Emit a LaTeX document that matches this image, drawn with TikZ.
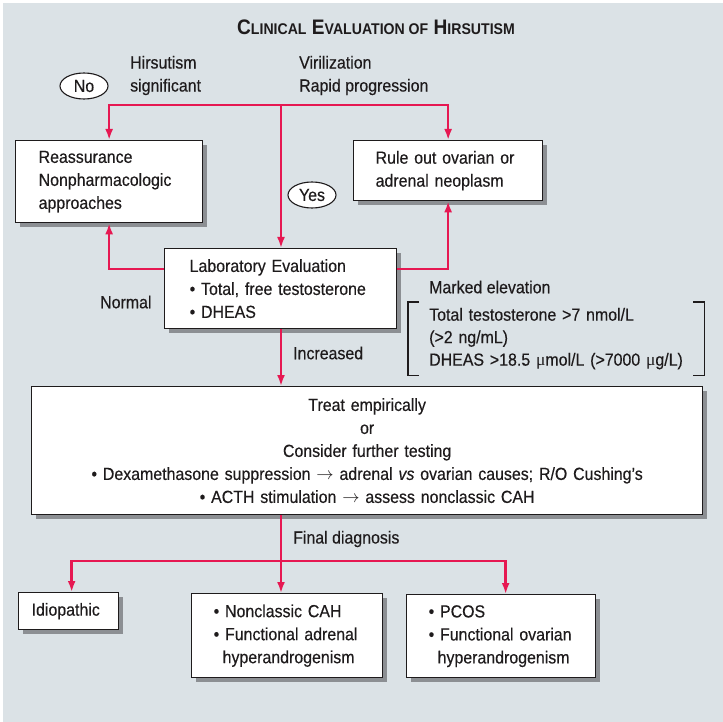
\documentclass[tikz,border=0pt]{standalone}
\usepackage{fontspec}
\setmainfont{Liberation Sans}[FakeStretch=0.91, UprightFeatures={FakeBold=0.35}, ItalicFeatures={FakeBold=0.35}]
\newfontfamily\mufont{Liberation Serif}
\usetikzlibrary{arrows.meta,shadows,calc,shapes.geometric}

\definecolor{panel}{RGB}{219,226,230}
\definecolor{flow}{RGB}{230,24,82}
\definecolor{ink}{RGB}{30,27,28}
\definecolor{shade}{RGB}{140,143,147}

% small capitals of the heading, set by hand
\newcommand\headsc[1]{{\fontsize{15.5}{18}\selectfont #1}}
\newcommand\mic{{\mufont μ}}
\newcommand\toward{$\rightarrow$}

\begin{document}
\begin{tikzpicture}[x=1pt,y=-1pt,
  every node/.style={text=ink, font=\fontsize{17.5}{23}\selectfont},
  padl/.style={execute at begin node={\leftskip=#1}},
  box/.style={draw=ink, line width=1.3pt, fill=white, inner sep=0pt,
    align=left, anchor=north west,
    drop shadow={shadow xshift=4pt, shadow yshift=-4pt, fill=shade, opacity=1}},
  arr/.style={draw=flow, line width=2.4pt, -{Latex[length=11pt,width=8pt]}},
  link/.style={draw=flow, line width=2.4pt},
  oval/.style={draw=ink, ellipse, fill=white, line width=1.1pt, inner sep=0pt,
    minimum width=48pt, minimum height=26pt},
  lbl/.style={anchor=west, inner sep=0pt, align=left},
  brk/.style={draw=ink, line width=1.2pt}
]
\useasboundingbox (0,0) rectangle (723,722);
\fill[white] (0,0) rectangle (723,722);
\fill[panel] (3,3) rectangle (723,722);

% heading
\node[inner sep=0pt] (title) at (376,27)
  {\fontsize{21}{24}\selectfont\bfseries C\headsc{LINICAL} E\headsc{VALUATION OF} H\headsc{IRSUTISM}};

% entry labels
\node[oval] (no) at (84,86) {No};
\node[lbl] (signif) at (130,75.5) {Hirsutism\\significant};
\node[lbl] (viril) at (299,75.5) {Virilization\\Rapid progression};

% boxes
\node[box, text width=187pt, minimum height=82pt, padl=23pt] (reas) at (15,140)
  {Reassurance\\Nonpharmacologic\\approaches};
\node[box, text width=189pt, minimum height=60pt, padl=22pt] (rule) at (353,140)
  {Rule out ovarian or\\adrenal neoplasm};
\node[oval] (yes) at (312,195) {Yes};
\node[box, text width=232pt, minimum height=80pt, padl=25pt] (lab) at (164,248)
  {Laboratory Evaluation\\• Total, free testosterone\\• DHEAS};
\node[box, text width=671pt, minimum height=128pt, align=center] (big) at (31,386)
  {Treat empirically\\or\\Consider further testing\\
   • Dexamethasone suppression \toward{} adrenal \textit{vs} ovarian causes; R/O Cushing’s\\
   • ACTH stimulation \toward{} assess nonclassic CAH};
\node[box, text width=100pt, minimum height=37pt, padl=13pt] (idio) at (18,592)
  {Idiopathic};
\node[box, text width=191pt, minimum height=84pt, padl=22pt] (mid) at (191,593)
  {• Nonclassic CAH\\• Functional adrenal\\\hspace*{9pt}hyperandrogenism};
\node[box, text width=189pt, minimum height=83pt, padl=22pt] (ovar) at (406,594)
  {• PCOS\\• Functional ovarian\\\hspace*{9pt}hyperandrogenism};

% side labels
\node[lbl] (normal) at (100,302) {Normal};
\node[lbl] (marked) at (429,287) {Marked elevation};
\node[lbl] (incr) at (293,353) {Increased};
\node[lbl] (final) at (293,539) {Final diagnosis};
\node[anchor=north west, inner sep=0pt, text width=296pt, minimum height=73pt,
      align=left, padl=21pt, font=\fontsize{17.5}{22.5}\selectfont] (crit) at (408,302)
  {Total testosterone >7 nmol/L\\(>2 ng/mL)\\DHEAS >18.5 \mic mol/L (>7000 \mic g/L)};
\draw[brk] ([xshift=11pt]crit.north west) -- (crit.north west) -- (crit.south west)
  -- ([xshift=11pt]crit.south west);
\draw[brk] ([xshift=-11pt]crit.north east) -- (crit.north east) -- (crit.south east)
  -- ([xshift=-11pt]crit.south east);

% connectors
\coordinate (split) at (281,105);
\draw[arr] (split) -| (reas.north);
\draw[arr] (split) -| (rule.north);
\draw[arr] (split) -- (split |- lab.north);
\draw[arr] ($(lab.north west)+(0,21)$) -| (reas.south);
\draw[arr] ($(lab.north east)+(0,21)$) -| (rule.south);
\draw[arr] (lab.south -| split) -- (big.north -| split);

\coordinate (fork) at (281,561);
\draw[link] (big.south -| fork) -- (fork);
\draw[arr] (fork) -| ([xshift=3pt]idio.north);
\draw[arr] (fork) -- (fork |- mid.north);
\draw[arr] (fork) -| ([xshift=4.5pt]ovar.north);
\end{tikzpicture}
\end{document}
